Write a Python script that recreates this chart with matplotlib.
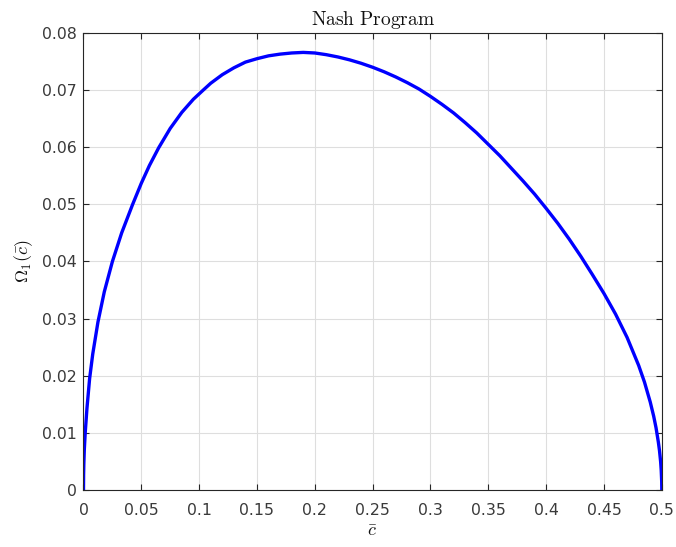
import matplotlib
matplotlib.use("Agg")
import matplotlib.pyplot as plt

# Nash program objective as a function of the cutoff c-bar
c_bar = [0.0, 0.0001, 0.0003, 0.0007, 0.0015, 0.003, 0.0053, 0.008, 0.0125,
         0.018, 0.025, 0.033, 0.0425, 0.05, 0.057, 0.065, 0.075, 0.085,
         0.095, 0.1035, 0.11, 0.12, 0.13, 0.14, 0.15, 0.16, 0.17, 0.18,
         0.19, 0.20, 0.21, 0.22, 0.23, 0.24, 0.25, 0.26, 0.27, 0.28, 0.29,
         0.30, 0.31, 0.32, 0.33, 0.34, 0.35, 0.36, 0.37, 0.38, 0.39, 0.40,
         0.41, 0.42, 0.43, 0.44, 0.45, 0.46, 0.47, 0.48, 0.485, 0.49, 0.493,
         0.495, 0.497, 0.498, 0.499, 0.4995, 0.4999, 0.5]
omega = [0.0, 0.0027, 0.0046, 0.0070, 0.0100, 0.0143, 0.0195, 0.0238, 0.0294,
         0.0347, 0.0400, 0.0450, 0.0500, 0.0537, 0.0568, 0.0599, 0.0633,
         0.0661, 0.0684, 0.0700, 0.0712, 0.0727, 0.0739, 0.0749, 0.0755,
         0.0760, 0.0763, 0.0765, 0.0766, 0.0765, 0.0762, 0.0758, 0.0753,
         0.0747, 0.0740, 0.0732, 0.0723, 0.0713, 0.0702, 0.0689, 0.0675,
         0.0660, 0.0643, 0.0625, 0.0605, 0.0585, 0.0563, 0.0541, 0.0518,
         0.0493, 0.0467, 0.0439, 0.0409, 0.0377, 0.0344, 0.0308, 0.0267,
         0.0218, 0.0189, 0.0154, 0.0129, 0.0109, 0.0084, 0.0069, 0.0049,
         0.0034, 0.0015, 0.0]

x_ticks = [0, 0.05, 0.1, 0.15, 0.2, 0.25, 0.3, 0.35, 0.4, 0.45, 0.5]
x_tick_labels = ["0", "0.05", "0.1", "0.15", "0.2", "0.25", "0.3", "0.35",
                 "0.4", "0.45", "0.5"]
y_ticks = [0, 0.01, 0.02, 0.03, 0.04, 0.05, 0.06, 0.07, 0.08]
y_tick_labels = ["0", "0.01", "0.02", "0.03", "0.04", "0.05", "0.06",
                 "0.07", "0.08"]

plt.rcParams["mathtext.fontset"] = "cm"
plt.rcParams["font.family"] = ["DejaVu Sans"]

axis_color = "#262626"

fig = plt.figure(figsize=(6.76, 5.47), dpi=100)
ax = fig.add_axes([0.1235, 0.1042, 0.8555, 0.8355])

ax.plot(c_bar, omega, color=(0, 0, 1), linewidth=2.4,
        solid_joinstyle="round", solid_capstyle="butt")

ax.set_xlim(0, 0.5)
ax.set_ylim(0, 0.08)
ax.set_xticks(x_ticks)
ax.set_xticklabels(x_tick_labels)
ax.set_yticks(y_ticks)
ax.set_yticklabels(y_tick_labels)

ax.grid(True, color="#dedede", linewidth=0.8)
ax.set_axisbelow(True)

ax.tick_params(axis="both", which="both", direction="in", length=4,
               width=0.8, colors=axis_color, labelsize=11.3,
               top=True, right=True)
ax.tick_params(axis="x", pad=9, labelcolor="#3a3a3a")
ax.tick_params(axis="y", pad=4.5, labelcolor="#3a3a3a")
for side in ax.spines.values():
    side.set_color(axis_color)
    side.set_linewidth(0.8)

ax.set_title(r"$\mathrm{Nash\ Program}$", fontsize=14, color="#111111",
             pad=6)
ax.set_xlabel(r"$\bar{c}$", fontsize=13, color="#111111", labelpad=3)
ax.set_ylabel(r"$\Omega_1(\bar{c})$", fontsize=13, color="#111111",
              labelpad=5)

fig.savefig("out.png", dpi=100)
